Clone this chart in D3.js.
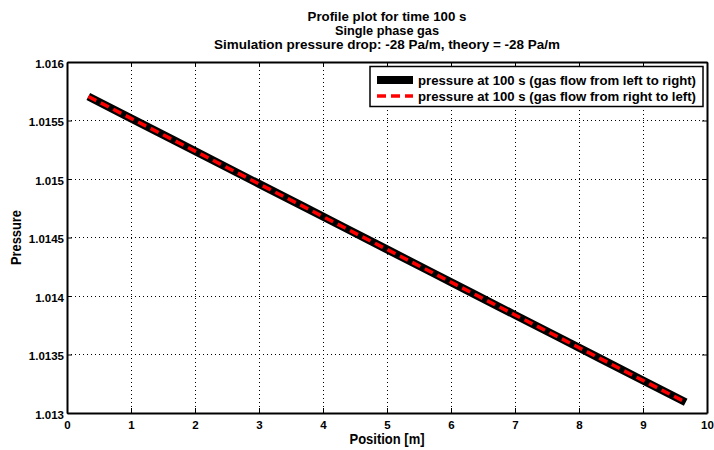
<!DOCTYPE html>
<html>
<head>
<meta charset="utf-8">
<script src="https://cdn.jsdelivr.net/npm/d3@7"></script>
<style>
  html, body { margin: 0; padding: 0; background: #fff; }
  svg text { font-family: "Liberation Sans", Arial, Helvetica, sans-serif; font-weight: bold; fill: #000; }
</style>
</head>
<body>
<svg id="chart" width="714" height="450"></svg>
<script>
// Cell-centre positions along the pipe [m]
const position = [0.333, 1.0, 1.667, 2.333, 3.0, 3.667, 4.333, 5.0, 5.667, 6.333, 7.0, 7.667, 8.333, 9.0, 9.667];
// Pressure profile, gas flowing left -> right
const pressureLR = [1.015705, 1.015518, 1.015332, 1.015145, 1.014958, 1.014772, 1.014585, 1.014398,
                    1.014212, 1.014025, 1.013838, 1.013652, 1.013465, 1.013278, 1.013092];
// Pressure profile, gas flowing right -> left (mirrored run)
const pressureRL = [1.015705, 1.015518, 1.015332, 1.015145, 1.014958, 1.014772, 1.014585, 1.014398,
                    1.014212, 1.014025, 1.013838, 1.013652, 1.013465, 1.013278, 1.013092];

const xTicks = [0, 1, 2, 3, 4, 5, 6, 7, 8, 9, 10];
const yTicks = [1.013, 1.0135, 1.014, 1.0145, 1.015, 1.0155, 1.016];
const yTickLabels = ["1.013", "1.0135", "1.014", "1.0145", "1.015", "1.0155", "1.016"];

const titleLines = ["Profile plot for time 100 s", "Single phase gas",
                    "Simulation pressure drop: -28 Pa/m, theory = -28 Pa/m"];
const legendLabels = ["pressure at 100 s (gas flow from left to right)",
                      "pressure at 100 s (gas flow from right to left)"];

const svg = d3.select("#chart");
const plot = { left: 67, right: 707, top: 62, bottom: 413 };

const x = d3.scaleLinear().domain([0, 10]).range([plot.left, plot.right]);
const y = d3.scaleLinear().domain([1.013, 1.016]).range([plot.bottom, plot.top]);

// Dotted grid
const grid = svg.append("g").attr("stroke", "#000").attr("stroke-width", 1)
  .attr("stroke-dasharray", "1,3").attr("shape-rendering", "crispEdges");
xTicks.slice(1, -1).forEach(t => {
  grid.append("line").attr("x1", x(t)).attr("x2", x(t)).attr("y1", plot.top).attr("y2", plot.bottom);
});
yTicks.slice(1, -1).forEach(t => {
  grid.append("line").attr("y1", y(t)).attr("y2", y(t)).attr("x1", plot.left).attr("x2", plot.right);
});

// Axes with inward ticks on all four sides
const tickLen = 5;
const fmtY = (d) => yTickLabels[yTicks.indexOf(d)];
const axB = svg.append("g").attr("transform", `translate(0,${plot.bottom})`)
  .call(d3.axisBottom(x).tickValues(xTicks).tickSizeInner(-tickLen).tickSizeOuter(0).tickPadding(8).tickFormat(d3.format("d")));
const axT = svg.append("g").attr("transform", `translate(0,${plot.top})`)
  .call(d3.axisTop(x).tickValues(xTicks).tickSizeInner(-tickLen).tickSizeOuter(0).tickFormat(""));
const axL = svg.append("g").attr("transform", `translate(${plot.left},0)`)
  .call(d3.axisLeft(y).tickValues(yTicks).tickSizeInner(-tickLen).tickSizeOuter(0).tickPadding(3).tickFormat(fmtY));
const axR = svg.append("g").attr("transform", `translate(${plot.right},0)`)
  .call(d3.axisRight(y).tickValues(yTicks).tickSizeInner(-tickLen).tickSizeOuter(0).tickFormat(""));
[axB, axT, axL, axR].forEach(a => {
  a.selectAll("path").attr("stroke", "#000").attr("stroke-width", 2);
  a.selectAll("line").attr("stroke", "#000").attr("stroke-width", 1);
  a.selectAll("text").attr("font-size", 11.5).attr("font-family", null).attr("fill", "#000");
});
axL.selectAll("text").attr("dy", "0.45em");

// Profiles
const pts = (vals) => position.map((p, i) => [p, vals[i]]);
const line = d3.line().x(d => x(d[0])).y(d => y(d[1]));
svg.append("path").datum(pts(pressureLR)).attr("d", line)
  .attr("fill", "none").attr("stroke", "#000").attr("stroke-width", 8);
svg.append("path").datum(pts(pressureRL)).attr("d", line)
  .attr("fill", "none").attr("stroke", "#ff0000").attr("stroke-width", 3.5).attr("stroke-dasharray", "9,5");

// Title
const titleWidths = [159, 104, 346];
svg.append("g").selectAll("text").data(titleLines).join("text")
  .attr("x", x(5)).attr("y", (d, i) => 20.5 + i * 14).attr("text-anchor", "middle")
  .attr("font-size", 12).attr("textLength", (d, i) => titleWidths[i])
  .attr("lengthAdjust", "spacingAndGlyphs").text(d => d);

// Axis labels
svg.append("text").attr("x", x(5)).attr("y", 444).attr("text-anchor", "middle")
  .attr("font-size", 14).attr("textLength", 75).attr("lengthAdjust", "spacingAndGlyphs")
  .text("Position [m]");
svg.append("text").attr("transform", `translate(21,${(plot.top + plot.bottom) / 2}) rotate(-90)`)
  .attr("text-anchor", "middle").attr("font-size", 14).attr("textLength", 55)
  .attr("lengthAdjust", "spacingAndGlyphs").text("Pressure");

// Legend
const lg = svg.append("g");
lg.append("rect").attr("x", 370).attr("y", 66.5).attr("width", 333).attr("height", 40)
  .attr("fill", "#fff").attr("stroke", "#000").attr("stroke-width", 1.5);
const rows = [
  { y: 80, stroke: "#000", width: 8, dash: null },
  { y: 96, stroke: "#ff0000", width: 3.5, dash: "9,5" }
];
rows.forEach((r, i) => {
  lg.append("line").attr("x1", 377).attr("x2", 413).attr("y1", r.y).attr("y2", r.y)
    .attr("stroke", r.stroke).attr("stroke-width", r.width).attr("stroke-dasharray", r.dash);
  lg.append("text").attr("x", 418).attr("y", r.y + 5).attr("font-size", 13.5)
    .attr("textLength", 278).attr("lengthAdjust", "spacingAndGlyphs").text(legendLabels[i]);
});
</script>
</body>
</html>
